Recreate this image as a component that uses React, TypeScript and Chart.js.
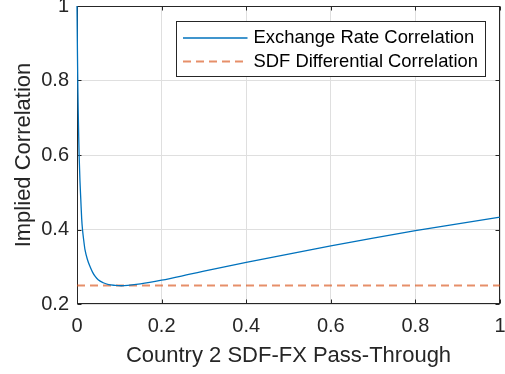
import { useEffect, useRef } from 'react';
import { Chart, registerables } from 'chart.js';

Chart.register(...registerables);

// ---- Data ----
const passThrough = [
  0, 0.001, 0.002, 0.003, 0.004, 0.005, 0.007, 0.009, 0.011, 0.013, 0.016, 0.019,
  0.025, 0.031, 0.037, 0.043, 0.05, 0.062, 0.075, 0.09, 0.105, 0.12, 0.15, 0.2,
  0.267, 0.3, 0.4, 0.5, 0.6, 0.7, 0.8, 0.9, 1,
];
const exchangeRateCorrelation = [
  1, 0.88, 0.78, 0.71, 0.65, 0.6, 0.53, 0.48, 0.43, 0.4, 0.37, 0.345,
  0.318, 0.3, 0.285, 0.274, 0.265, 0.257, 0.252, 0.25, 0.249, 0.25, 0.254, 0.264,
  0.28, 0.288, 0.312, 0.334, 0.356, 0.377, 0.397, 0.415, 0.433,
];
const sdfPassThrough = [0, 1];
const sdfDifferentialCorrelation = [0.25, 0.25];

const seriesLabels = ['Exchange Rate Correlation', 'SDF Differential Correlation'];
const xAxisTitle = 'Country 2 SDF-FX Pass-Through';
const yAxisTitle = 'Implied Correlation';

const FONT = '"Liberation Sans", Arial, Helvetica, sans-serif';
const AXIS_COLOR = '#262626';
const GRID_COLOR = '#dfdfdf';

const frameAndTicks = {
  id: 'frameAndTicks',
  beforeDatasetsDraw(chart: any) {
    const { ctx, chartArea } = chart;
    const { left, right, top, bottom } = chartArea;
    ctx.save();
    ctx.strokeStyle = AXIS_COLOR;
    ctx.lineWidth = 1;
    const L = Math.round(left) + 0.5;
    const R = Math.round(right) - 0.5;
    const T = Math.round(top) + 0.5;
    const B = Math.round(bottom) - 0.5;
    ctx.strokeRect(L, T, R - L, B - T);
    const tl = 4;
    ctx.beginPath();
    const xs = chart.scales.x;
    xs.ticks.forEach((t: any) => {
      const px = Math.round(xs.getPixelForValue(t.value)) + 0.5;
      ctx.moveTo(px, B); ctx.lineTo(px, B - tl);
      ctx.moveTo(px, T); ctx.lineTo(px, T + tl);
    });
    const ys = chart.scales.y;
    ys.ticks.forEach((t: any) => {
      const py = Math.round(ys.getPixelForValue(t.value)) + 0.5;
      ctx.moveTo(L, py); ctx.lineTo(L + tl, py);
      ctx.moveTo(R, py); ctx.lineTo(R - tl, py);
    });
    ctx.stroke();
    ctx.restore();
  },
};

const legendBox = {
  id: 'legendBox',
  afterDraw(chart: any) {
    const { ctx, chartArea } = chart;
    const x1 = Math.round(chartArea.right) - 15 + 0.5;
    const w = 309;
    const x0 = x1 - w;
    const y0 = Math.round(chartArea.top) + 15 + 0.5;
    const h = 55;
    ctx.save();
    ctx.fillStyle = '#ffffff';
    ctx.fillRect(x0, y0, w, h);
    ctx.strokeStyle = AXIS_COLOR;
    ctx.lineWidth = 1;
    ctx.strokeRect(x0, y0, w, h);
    const rows = [y0 + 16.5, y0 + 40];
    chart.data.datasets.forEach((ds: any, i: number) => {
      const y = rows[i];
      ctx.beginPath();
      ctx.strokeStyle = ds.borderColor;
      ctx.lineWidth = ds.borderWidth;
      ctx.setLineDash(ds.borderDash || []);
      ctx.moveTo(x0 + 6.5, y);
      ctx.lineTo(x0 + 71, y);
      ctx.stroke();
      ctx.setLineDash([]);
      ctx.fillStyle = '#000000';
      ctx.font = `18.4px ${FONT}`;
      ctx.textBaseline = 'middle';
      ctx.textAlign = 'left';
      ctx.fillText(ds.label, x0 + 77, y);
    });
    ctx.restore();
  },
};

export default function App() {
  const ref = useRef<HTMLCanvasElement | null>(null);

  useEffect(() => {
    document.body.style.margin = '0';
    if (!ref.current) return;
    const chart = new Chart(ref.current, {
      type: 'line',
      data: {
        datasets: [
          {
            label: seriesLabels[0],
            data: passThrough.map((x, i) => ({ x, y: exchangeRateCorrelation[i] })),
            borderColor: '#0072BD',
            borderWidth: 1.3,
            pointRadius: 0,
            cubicInterpolationMode: 'monotone',
            fill: false,
            clip: 2,
          },
          {
            label: seriesLabels[1],
            data: sdfPassThrough.map((x, i) => ({ x, y: sdfDifferentialCorrelation[i] })),
            borderColor: 'rgba(217,83,25,0.65)',
            borderWidth: 2,
            borderDash: [8, 5],
            pointRadius: 0,
            fill: false,
          },
        ],
      },
      options: {
        animation: false,
        responsive: false,
        maintainAspectRatio: false,
        layout: { padding: { top: 6, right: 5, left: 0, bottom: 0 } },
        plugins: { legend: { display: false }, tooltip: { enabled: false } },
        scales: {
          x: {
            type: 'linear',
            min: 0,
            max: 1,
            ticks: {
              stepSize: 0.2,
              padding: 10,
              color: AXIS_COLOR,
              font: { family: FONT, size: 20 },
              maxRotation: 0,
              callback: (v: any) => String(Number(Number(v).toFixed(1))),
            },
            grid: { color: GRID_COLOR, drawTicks: false, lineWidth: 1 },
            border: { display: false },
            title: {
              display: true,
              text: xAxisTitle,
              color: AXIS_COLOR,
              font: { family: FONT, size: 22 },
              padding: { top: 0, bottom: 5 },
            },
            afterFit: (s: any) => {
              s.height = 70;
              s.paddingLeft = 0;
              s.paddingRight = 0;
            },
          },
          y: {
            type: 'linear',
            min: 0.2,
            max: 1,
            ticks: {
              stepSize: 0.2,
              padding: 8,
              color: AXIS_COLOR,
              font: { family: FONT, size: 20 },
              callback: (v: any) => String(Number(Number(v).toFixed(1))),
            },
            grid: { color: GRID_COLOR, drawTicks: false, lineWidth: 1 },
            border: { display: false },
            title: {
              display: true,
              text: yAxisTitle,
              color: AXIS_COLOR,
              font: { family: FONT, size: 22 },
              padding: { top: 11, bottom: 0 },
            },
            afterFit: (s: any) => {
              s.width = 77;
              s.paddingTop = 0;
              s.paddingBottom = 0;
            },
          },
        },
      },
      plugins: [frameAndTicks, legendBox],
    });
    return () => chart.destroy();
  }, []);

  return (
    <div style={{ width: 505, height: 374 }}>
      <canvas ref={ref} width={505} height={374} style={{ display: 'block', width: 505, height: 374 }} />
    </div>
  );
}
